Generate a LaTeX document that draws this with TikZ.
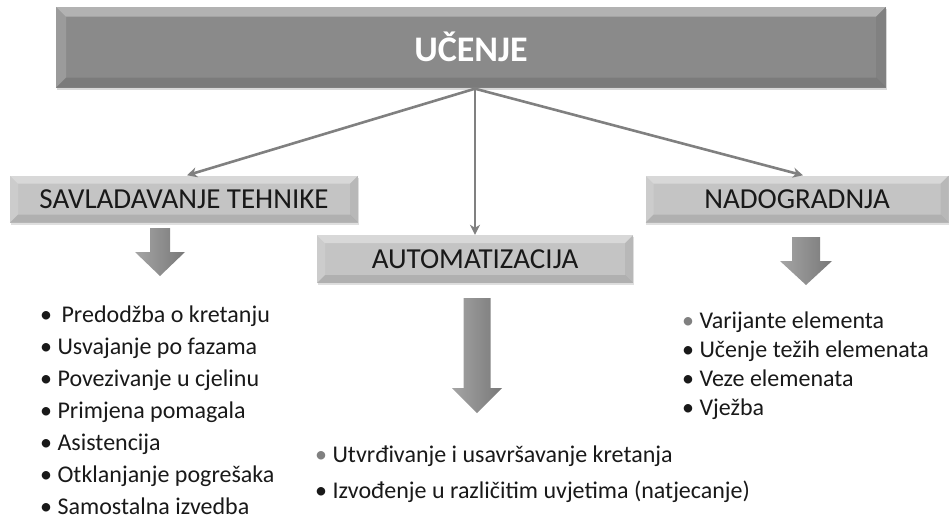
\documentclass[tikz,border=0pt]{standalone}
\usepackage{fontspec}
\setmainfont{Carlito}
\usetikzlibrary{arrows.meta, positioning, shadows, calc}
\definecolor{topgray}{RGB}{138,138,138}
\definecolor{boxgray}{RGB}{196,196,196}
\definecolor{linegray}{RGB}{128,128,128}
\definecolor{arrowlight}{RGB}{165,165,165}
\definecolor{arrowdark}{RGB}{120,120,120}
\definecolor{inkdark}{RGB}{25,25,25}

\begin{document}
\begin{tikzpicture}[
        x=1pt, y=-1pt,
        bevel/.style={path picture={
            \fill[white, opacity=.35] (path picture bounding box.north west) -- (path picture bounding box.north east) -- ([xshift=-#1, yshift=-#1]path picture bounding box.north east) -- ([xshift=#1, yshift=-#1]path picture bounding box.north west) -- cycle;
            \fill[white, opacity=.15] (path picture bounding box.north west) -- ([xshift=#1, yshift=-#1]path picture bounding box.north west) -- ([xshift=#1, yshift=#1]path picture bounding box.south west) -- (path picture bounding box.south west) -- cycle;
            \fill[black, opacity=.10] (path picture bounding box.south west) -- (path picture bounding box.south east) -- ([xshift=-#1, yshift=#1]path picture bounding box.south east) -- ([xshift=#1, yshift=#1]path picture bounding box.south west) -- cycle;
            \fill[black, opacity=.06] (path picture bounding box.north east) -- ([xshift=-#1, yshift=-#1]path picture bounding box.north east) -- ([xshift=-#1, yshift=#1]path picture bounding box.south east) -- (path picture bounding box.south east) -- cycle;
        }},
        topbox/.style={rectangle, fill=topgray, bevel=10pt, inner sep=0pt, minimum width=830pt, minimum height=81pt, text=white, font=\fontsize{36}{40}\selectfont\bfseries, drop shadow={shadow xshift=.5pt, shadow yshift=-2.5pt, opacity=.3}},
        stagebox/.style={rectangle, fill=boxgray, bevel=8pt, inner sep=0pt, minimum height=47pt, text=inkdark, font=\fontsize{29}{32}\selectfont, drop shadow={shadow xshift=.5pt, shadow yshift=-2pt, opacity=.25}},
        listtext/.style={align=left, inner sep=0pt, text=inkdark, anchor=base west},
        conn/.style={-{Stealth[length=10pt, width=10pt, inset=3pt]}, line width=2.6pt, draw=linegray},
        blockarrow/.style={left color=arrowlight, right color=arrowdark}
    ]
        \useasboundingbox (0,0) rectangle (951,520);

        \node[topbox] (ucenje) at (471,47) {UČENJE};
        \node[stagebox, minimum width=348pt] (tehnika) at (184,199) {SAVLADAVANJE TEHNIKE};
        \node[stagebox, minimum width=316pt, minimum height=48pt] (automat) at (475,259) {AUTOMATIZACIJA};
        \node[stagebox, minimum width=303pt] (nadogr) at (797,199) {NADOGRADNJA};

        \coordinate (hub) at ([xshift=4pt, yshift=-1pt]ucenje.south);
        \draw[conn] (hub) -- ([xshift=3pt]tehnika.north);
        \draw[conn] (hub) -- (automat.north);
        \draw[conn] (hub) -- ([xshift=6pt]nadogr.north);

        \shade[blockarrow] (150,228) -- (170,228) -- (170,252) -- (185,252) -- (160,276) -- (135,252) -- (150,252) -- cycle;
        \shade[blockarrow] (463.5,298) -- (490.5,298) -- (490.5,388) -- (502,388) -- (477,413) -- (452,388) -- (463.5,388) -- cycle;
        \shade[blockarrow] (792,237) -- (820,237) -- (820,261) -- (832,261) -- (806,285) -- (780,261) -- (792,261) -- cycle;

        % base anchor sits on the last line
        \node[listtext, font=\fontsize{24}{32}\selectfont] (listA) at (40,514) {•\, Predodžba o kretanju\\• Usvajanje po fazama\\• Povezivanje u cjelinu\\• Primjena pomagala\\• Asistencija\\• Otklanjanje pogrešaka\\• Samostalna izvedba};
        \node[listtext, font=\fontsize{24}{36}\selectfont] (listB) at (315,498) {{\color{linegray}•} Utvrđivanje i usavršavanje kretanja\\• Izvođenje u različitim uvjetima (natjecanje)};
        \node[listtext, font=\fontsize{24}{29}\selectfont] (listC) at (682,415) {{\color{linegray}•} Varijante elementa\\• Učenje težih elemenata\\• Veze elemenata\\• Vježba};
    \end{tikzpicture}
\end{document}
